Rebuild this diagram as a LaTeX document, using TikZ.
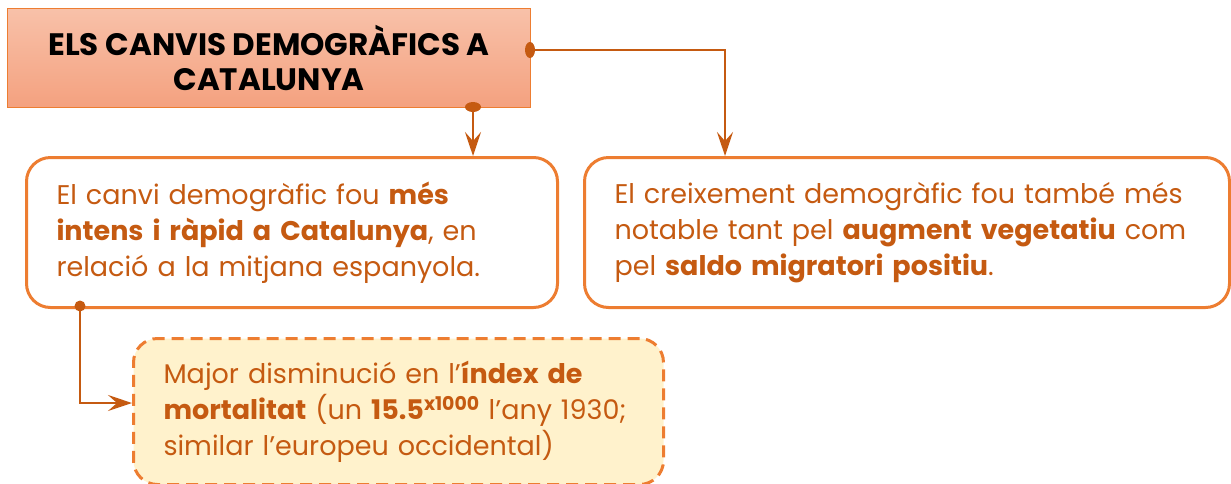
\documentclass[tikz,border=0pt]{standalone}
\usepackage{fontspec}
\setmainfont{Poppins}
\usetikzlibrary{positioning,arrows.meta}

\definecolor{boxline}{HTML}{ED7D31}
\definecolor{linkline}{HTML}{C55A11}
\definecolor{titletop}{HTML}{F8C1A9}
\definecolor{titlebot}{HTML}{F4A17F}
\definecolor{notefill}{HTML}{FFF2CC}

\begin{document}
\begin{tikzpicture}[x=1pt, y=-1pt,
  title/.style={draw=boxline, line width=1.2pt, top color=titletop, bottom color=titlebot,
    font=\fontsize{31}{35}\selectfont\bfseries, align=center, text=black},
  textbox/.style={draw=boxline, line width=3pt, rounded corners=24pt, fill=white,
    font=\fontsize{27}{36}\selectfont, align=left, text=linkline, inner xsep=29pt},
  notebox/.style={textbox, fill=notefill, dashed, dash pattern=on 12pt off 7pt},
  link/.style={draw=linkline, line width=2.2pt, -{Stealth[length=24pt,width=16pt,inset=9pt]}},
  dot/.style={fill=linkline}]

  \useasboundingbox (0,0) rectangle (1231,483);

  % Title
  \node[title, minimum width=523pt, minimum height=99pt, anchor=north west] (T) at (7,8)
    {ELS CANVIS DEMOGRÀFICS A\\CATALUNYA};

  % Upper row
  \node[textbox, minimum width=531pt, minimum height=150pt, text width=471pt, anchor=north west] (C1) at (25,156)
    {El canvi demogràfic fou \textbf{més}\\\textbf{intens i ràpid a Catalunya}, en\\relació a la mitjana espanyola.};
  \node[textbox, minimum width=645pt, minimum height=150pt, text width=585pt, anchor=north west] (C2) at (583,156)
    {El creixement demogràfic fou també més\\notable tant pel \textbf{augment vegetatiu} com\\pel \textbf{saldo migratori positiu}.};

  % Note
  \node[notebox, minimum width=530pt, minimum height=146pt, text width=470pt, anchor=north west] (N) at (132,337)
    {Major disminució en l’\textbf{índex de}\\\textbf{mortalitat} (un \textbf{15.5}\textsuperscript{\textbf{x1000}} l’any 1930;\\similar l’europeu occidental)};

  % Link points
  \coordinate (d1) at (473,107);
  \coordinate (d2) at (530,50);
  \coordinate (d3) at (80,306);
  \coordinate (k2) at (725,50);
  \coordinate (k3) at (80,403);

  % Connectors
  \draw[link] (d1) -- (d1 |- C1.north);
  \draw[link] (d2) -- (k2) -- (k2 |- C2.north);
  \draw[link] (d3) -- (k3) -- (k3 -| N.west);

  % Dots
  \fill[dot] (d1) ellipse [x radius=8, y radius=5];
  \fill[dot] (d2) ellipse [x radius=5, y radius=8];
  \fill[dot] (d3) circle [radius=5.5];

\end{tikzpicture}
\end{document}
